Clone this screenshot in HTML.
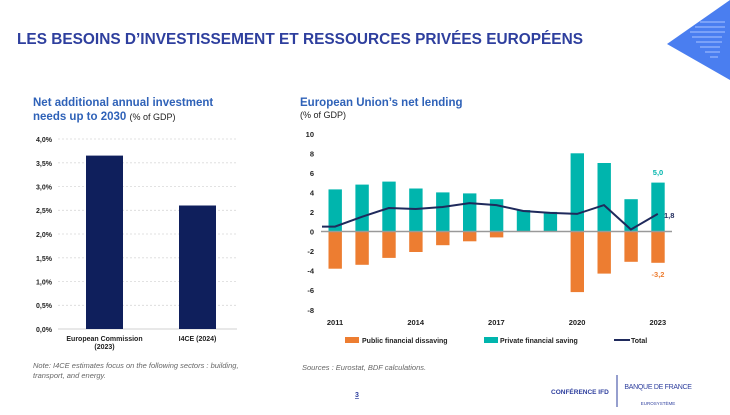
<!DOCTYPE html>
<html><head><meta charset="utf-8"><style>
body{margin:0;width:730px;height:410px;overflow:hidden;background:#fff;font-family:"Liberation Sans",sans-serif}
</style></head><body>
<svg width="730" height="410" xmlns="http://www.w3.org/2000/svg" font-family="Liberation Sans, sans-serif">
<polygon points="667,44 730,0 730,80" fill="#4a7ef0"/>
<g stroke="#a9c4ff" stroke-width="1">
<line x1="700" y1="22" x2="725" y2="22"/><line x1="695" y1="27" x2="725" y2="27"/><line x1="690" y1="32" x2="725" y2="32"/><line x1="692" y1="37" x2="722" y2="37"/><line x1="696" y1="42" x2="722" y2="42"/><line x1="700" y1="47" x2="720" y2="47"/><line x1="705" y1="52" x2="720" y2="52"/><line x1="710" y1="57" x2="718" y2="57"/>
</g>
<text x="17" y="44" font-size="16" font-weight="bold" fill="#2e3f9e" textLength="566" lengthAdjust="spacingAndGlyphs">LES BESOINS D’INVESTISSEMENT ET RESSOURCES PRIVÉES EUROPÉENS</text>

<text x="33" y="106" font-size="11.5" font-weight="bold" fill="#2f62b8">Net additional annual investment</text>
<text x="33" y="120" font-size="11.5" font-weight="bold" fill="#2f62b8">needs up to 2030 <tspan font-weight="normal" font-size="9" fill="#222">(% of GDP)</tspan></text>
<g stroke="#d9d9d9" stroke-dasharray="2,2" stroke-width="0.8">
<line x1="58" y1="139" x2="237" y2="139"/><line x1="58" y1="162.8" x2="237" y2="162.8"/><line x1="58" y1="186.5" x2="237" y2="186.5"/><line x1="58" y1="210.3" x2="237" y2="210.3"/><line x1="58" y1="234" x2="237" y2="234"/><line x1="58" y1="257.8" x2="237" y2="257.8"/><line x1="58" y1="281.5" x2="237" y2="281.5"/><line x1="58" y1="305.3" x2="237" y2="305.3"/>
</g>
<line x1="58" y1="329" x2="237" y2="329" stroke="#d0d0d0"/>
<g font-size="7" font-weight="bold" fill="#222" text-anchor="end">
<text x="52" y="142">4,0%</text><text x="52" y="166">3,5%</text><text x="52" y="189.5">3,0%</text><text x="52" y="213">2,5%</text><text x="52" y="237">2,0%</text><text x="52" y="261">1,5%</text><text x="52" y="284.5">1,0%</text><text x="52" y="308">0,5%</text><text x="52" y="332">0,0%</text>
</g>
<rect x="86" y="155.6" width="37" height="173.4" fill="#0f1f5c"/>
<rect x="179" y="205.5" width="37" height="123.5" fill="#0f1f5c"/>
<g font-size="7" font-weight="bold" fill="#222" text-anchor="middle">
<text x="104.5" y="341">European Commission</text><text x="104.5" y="349">(2023)</text><text x="197.5" y="341">I4CE (2024)</text>
</g>
<text x="33" y="368" font-size="7.5" font-style="italic" fill="#666">Note: I4CE estimates focus on the following sectors : building,</text>
<text x="33" y="378" font-size="7.5" font-style="italic" fill="#666">transport, and energy.</text>

<text x="300" y="106" font-size="11.5" font-weight="bold" fill="#2f62b8">European Union’s net lending</text>
<text x="300" y="118" font-size="9" fill="#222">(% of GDP)</text>
<g font-size="7.5" font-weight="bold" fill="#222" text-anchor="end">
<text x="314" y="137">10</text><text x="314" y="156.5">8</text><text x="314" y="176">6</text><text x="314" y="195.5">4</text><text x="314" y="215">2</text><text x="314" y="234.5">0</text><text x="314" y="254">-2</text><text x="314" y="273.5">-4</text><text x="314" y="293">-6</text><text x="314" y="313">-8</text>
</g>
<g fill="#00b5ad">
<rect x="328.5" y="189.4" width="13.4" height="42.1"/><rect x="355.4" y="184.6" width="13.4" height="46.9"/><rect x="382.3" y="181.6" width="13.4" height="49.9"/><rect x="409.2" y="188.5" width="13.4" height="43"/><rect x="436.1" y="192.4" width="13.4" height="39.1"/><rect x="463" y="193.4" width="13.4" height="38.1"/><rect x="489.9" y="199.2" width="13.4" height="32.3"/><rect x="516.8" y="210" width="13.4" height="21.5"/><rect x="543.7" y="211.9" width="13.4" height="19.6"/><rect x="570.6" y="153.3" width="13.4" height="78.2"/><rect x="597.5" y="163" width="13.4" height="68.5"/><rect x="624.4" y="199.2" width="13.4" height="32.3"/><rect x="651.3" y="182.6" width="13.4" height="48.9"/>
</g>
<g fill="#ed7d31">
<rect x="328.5" y="231.5" width="13.4" height="37.2"/><rect x="355.4" y="231.5" width="13.4" height="33.3"/><rect x="382.3" y="231.5" width="13.4" height="26.4"/><rect x="409.2" y="231.5" width="13.4" height="20.5"/><rect x="436.1" y="231.5" width="13.4" height="13.7"/><rect x="463" y="231.5" width="13.4" height="9.8"/><rect x="489.9" y="231.5" width="13.4" height="5.9"/><rect x="570.6" y="231.5" width="13.4" height="60.6"/><rect x="597.5" y="231.5" width="13.4" height="42.1"/><rect x="624.4" y="231.5" width="13.4" height="30.3"/><rect x="651.3" y="231.5" width="13.4" height="31.3"/>
</g>
<line x1="321" y1="231.5" x2="672" y2="231.5" stroke="#999" stroke-width="1.5"/>
<polyline fill="none" stroke="#1f2a5c" stroke-width="2" points="322,226.6 335,226.6 361.9,216.8 388.8,208 415.7,209 442.6,207 469.5,203.1 496.4,205.1 523.3,211 550.2,212.9 577.1,213.9 604,205.1 630.9,229.5 657.8,213.9"/>
<text x="658" y="175" font-size="7.5" font-weight="bold" fill="#00b5ad" text-anchor="middle">5,0</text>
<text x="664" y="218" font-size="7.5" font-weight="bold" fill="#1f2a5c">1,8</text>
<text x="658" y="277" font-size="7.5" font-weight="bold" fill="#ed7d31" text-anchor="middle">-3,2</text>
<g font-size="7.5" font-weight="bold" fill="#222" text-anchor="middle">
<text x="335" y="325">2011</text><text x="415.7" y="325">2014</text><text x="496.4" y="325">2017</text><text x="577.1" y="325">2020</text><text x="657.8" y="325">2023</text>
</g>
<rect x="345" y="337" width="14" height="6" fill="#ed7d31"/>
<text x="362" y="343" font-size="7" font-weight="bold" fill="#222">Public financial dissaving</text>
<rect x="484" y="337" width="14" height="6" fill="#00b5ad"/>
<text x="500" y="343" font-size="7" font-weight="bold" fill="#222">Private financial saving</text>
<line x1="614" y1="340" x2="630" y2="340" stroke="#1f2a5c" stroke-width="2"/>
<text x="631" y="343" font-size="7" font-weight="bold" fill="#222">Total</text>
<text x="302" y="370" font-size="7.5" font-style="italic" fill="#666">Sources : Eurostat, BDF calculations.</text>

<text x="355" y="397" font-size="7" font-weight="bold" fill="#2e3f9e" text-decoration="underline">3</text>
<text x="551" y="394" font-size="6.5" font-weight="bold" fill="#2e3f9e">CONFÉRENCE IFD</text>
<line x1="617" y1="375" x2="617" y2="407" stroke="#2e3f9e" stroke-width="1"/>
<text x="658" y="389" font-size="7" fill="#2e3f9e" text-anchor="middle" letter-spacing="-0.3">BANQUE DE FRANCE</text>
<text x="658" y="405" font-size="4.5" fill="#2e3f9e" text-anchor="middle">EUROSYSTÈME</text>
</svg>
</body></html>
